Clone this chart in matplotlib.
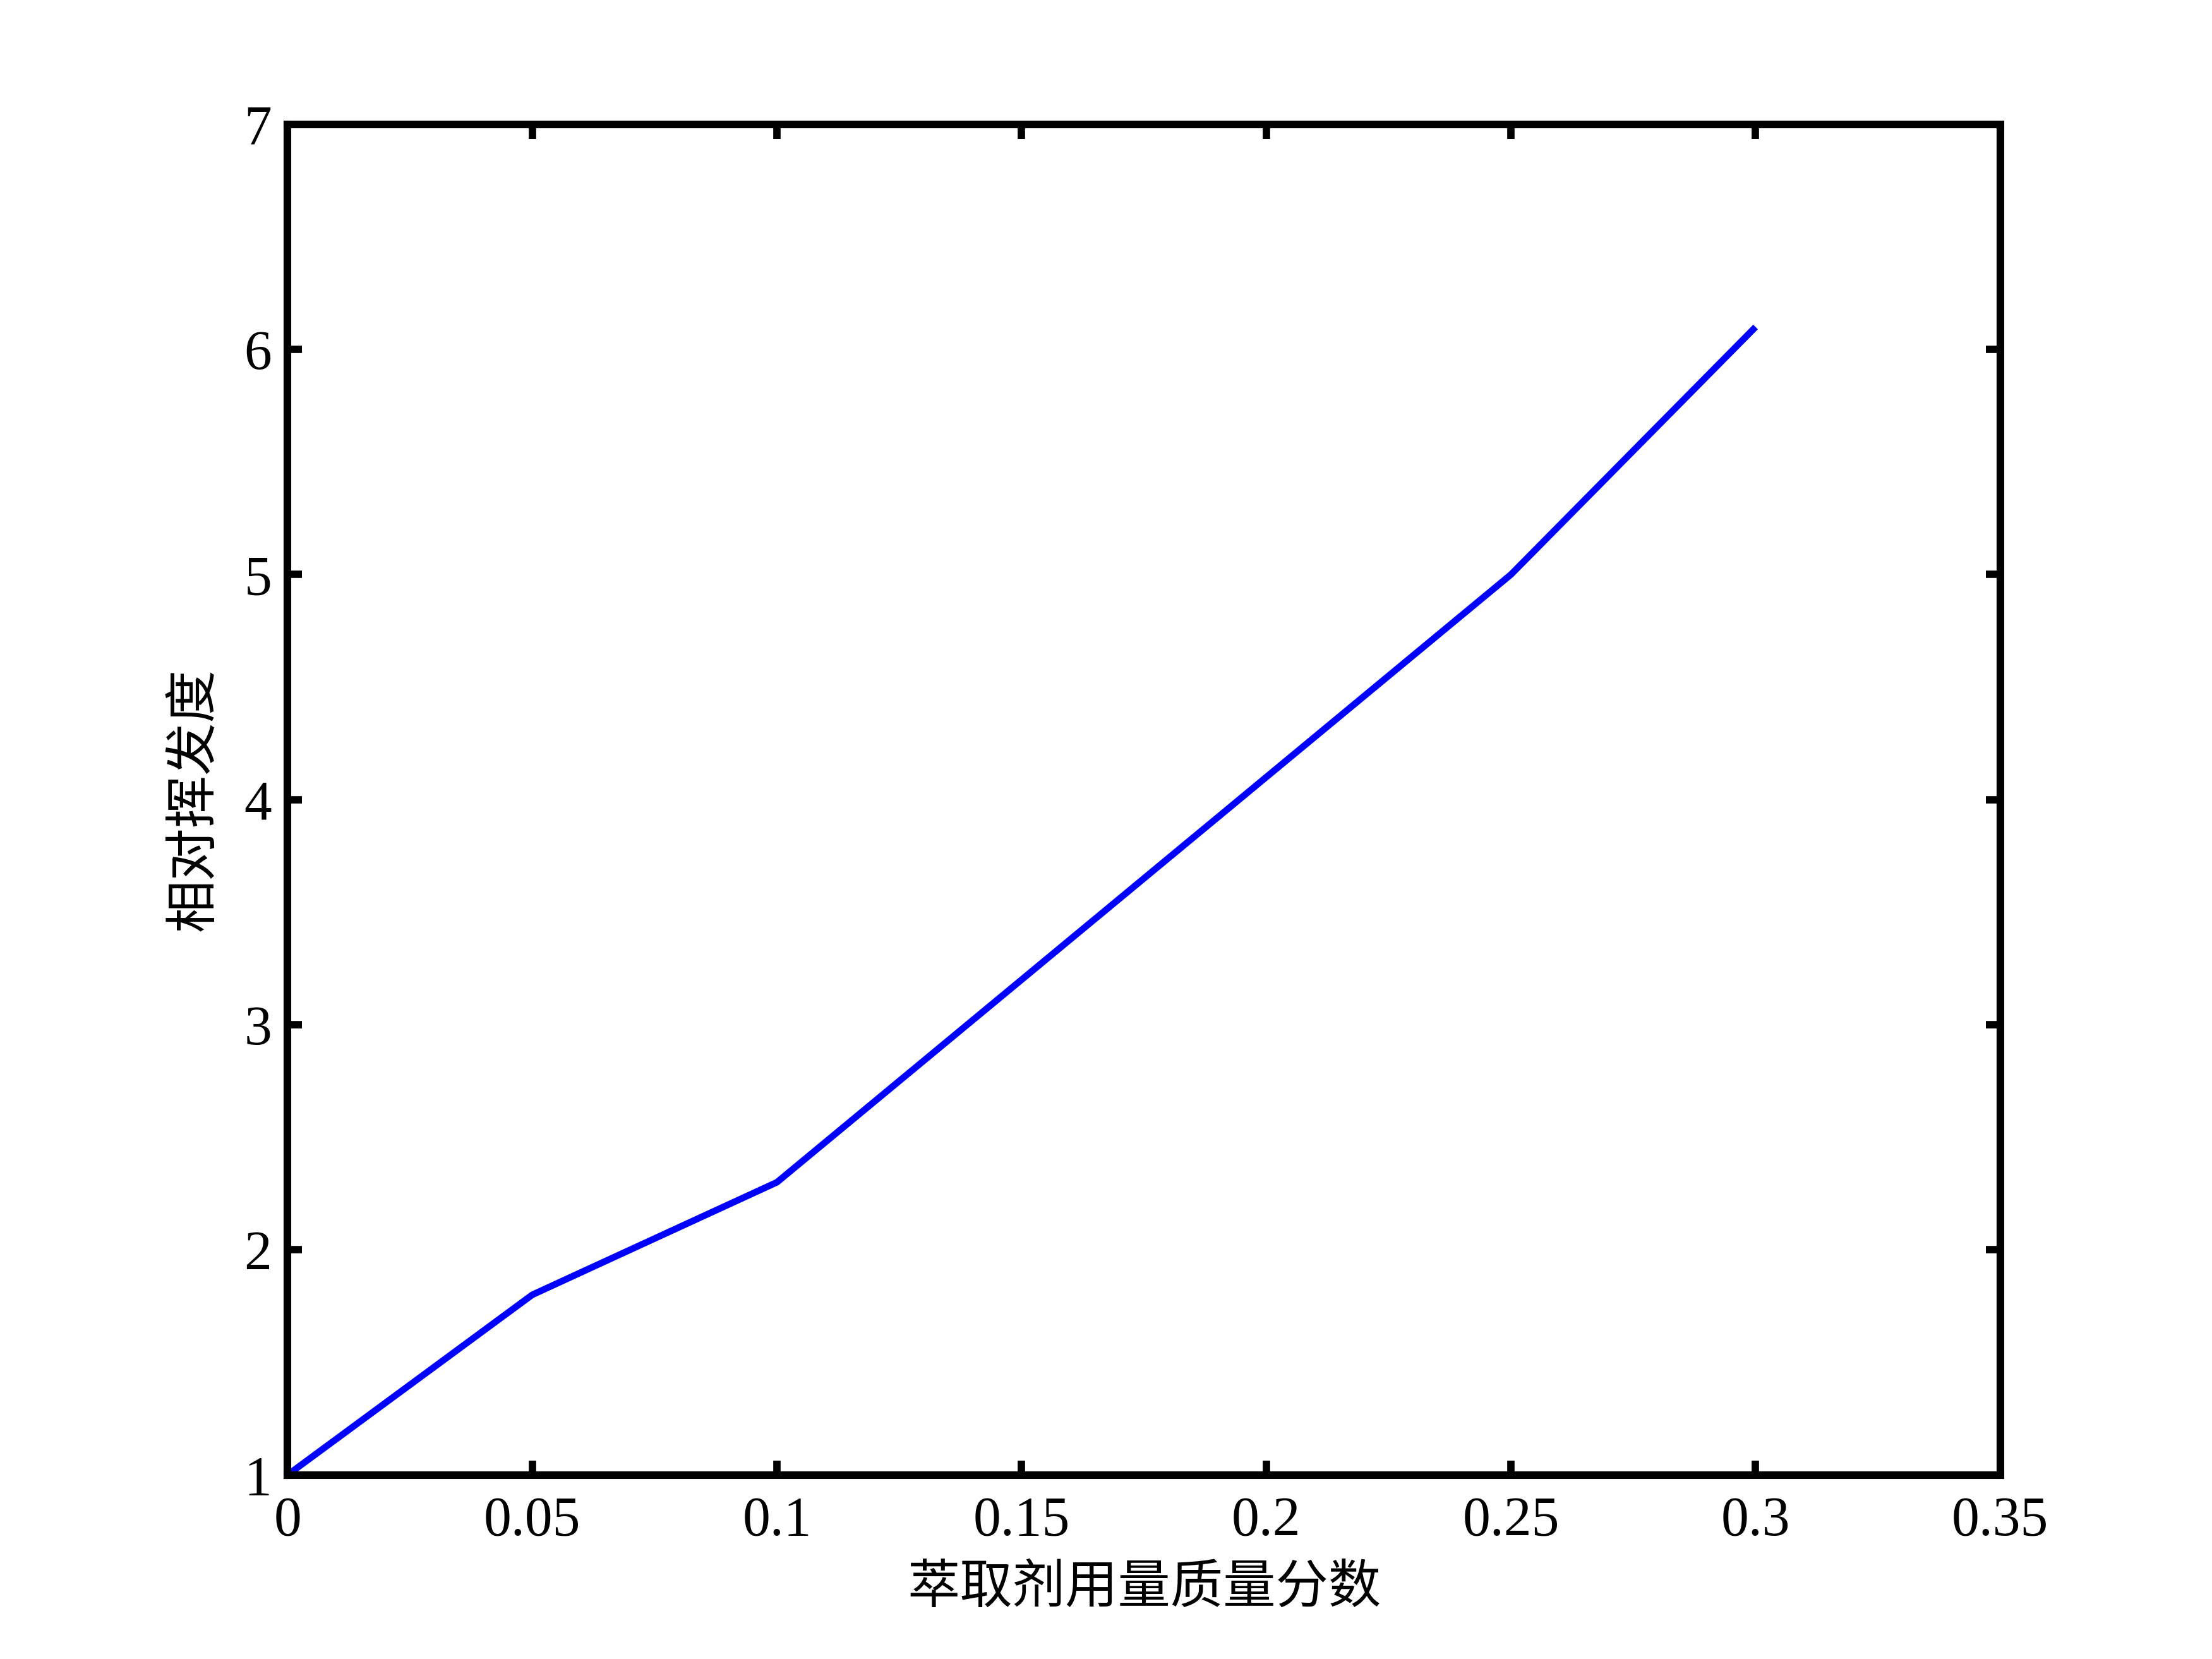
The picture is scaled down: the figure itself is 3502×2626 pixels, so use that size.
import matplotlib.pyplot as plt

# extractant mass fraction vs relative volatility
frac = [0, 0.05, 0.1, 0.15, 0.2, 0.25, 0.3]
rel_vol = [1.0, 1.8, 2.3, 3.2, 4.1, 5.0, 6.1]
xticks = [0, 0.05, 0.1, 0.15, 0.2, 0.25, 0.3, 0.35]
xtick_labels = ["0", "0.05", "0.1", "0.15", "0.2", "0.25", "0.3", "0.35"]
yticks = [1, 2, 3, 4, 5, 6, 7]

plt.rcParams["font.family"] = ["Liberation Serif", "DejaVu Serif"]

fig = plt.figure(figsize=(3503 / 300, 2626 / 300), dpi=300)
ax = fig.add_axes([0.13, 0.111, 0.774, 0.814])
ax.plot(frac, rel_vol, color="#0000ff", lw=2.5, solid_capstyle="butt")

ax.set_xlim(0, 0.35)
ax.set_ylim(1, 7)
ax.set_xticks(xticks)
ax.set_xticklabels(xtick_labels)
ax.set_yticks(yticks)
ax.tick_params(direction="in", length=5.5, width=2.8, labelsize=21,
               top=True, right=True, pad=8)
ax.tick_params(axis="y", pad=6)
for s in ax.spines.values():
    s.set_linewidth(2.9)

cjk = ["Noto Sans CJK SC", "DejaVu Sans"]
ax.set_xlabel("萃取剂用量质量分数", family=cjk, fontsize=20, labelpad=5)
ax.set_ylabel("相对挥发度", family=cjk, fontsize=20, labelpad=9)

fig.savefig("out.png", dpi=300)
plt.close(fig)
